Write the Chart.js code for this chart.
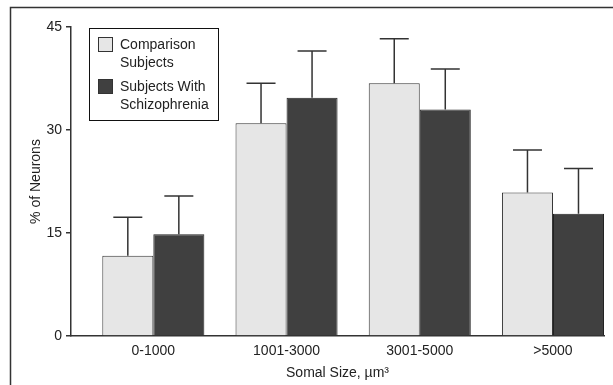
<!DOCTYPE html>
<html>
<head>
<meta charset="utf-8">
<script src="https://cdn.jsdelivr.net/npm/chart.js@4.4.0/dist/chart.umd.min.js"></script>
<style>
  html, body { margin: 0; padding: 0; background: #fff; }
  #wrap { width: 613px; height: 385px; }
</style>
</head>
<body>
<div id="wrap"><canvas id="somal-chart" width="613" height="385"></canvas></div>
<script>
    // Somal size bins
    const sizeBins = ['0-1000', '1001-3000', '3001-5000', '>5000'];

    // % of neurons, means and SD (error bars point up only)
    const comparisonMeans = [11.7, 31.0, 36.8, 20.9];
    const comparisonSD = [5.6, 5.8, 6.5, 6.2];
    const schizoMeans = [14.8, 34.7, 33.0, 17.8];
    const schizoSD = [5.6, 6.8, 5.9, 6.6];

    const yTicks = [0, 15, 30, 45];

    const fontFamily = '"Liberation Sans", Arial, sans-serif';
    const ink = '#222';

    // outer frame (only top and left sides visible in the figure)
    const framePlugin = {
        id: 'frame',
        beforeDraw(chart) {
            const ctx = chart.ctx;
            ctx.save();
            ctx.strokeStyle = '#333';
            ctx.lineWidth = 1.5;
            ctx.beginPath();
            ctx.moveTo(10.5, chart.height);
            ctx.lineTo(10.5, 7.5);
            ctx.lineTo(chart.width, 7.5);
            ctx.stroke();
            ctx.restore();
        }
    };

    // upward error bars with caps
    const errorBarPlugin = {
        id: 'errorBars',
        afterDatasetsDraw(chart) {
            const ctx = chart.ctx;
            const y = chart.scales.y;
            ctx.save();
            ctx.strokeStyle = '#333';
            ctx.lineWidth = 1.5;
            chart.data.datasets.forEach((ds, di) => {
                const meta = chart.getDatasetMeta(di);
                meta.data.forEach((bar, i) => {
                    const top = y.getPixelForValue(ds.data[i].y + ds.sd[i]);
                    ctx.beginPath();
                    ctx.moveTo(bar.x, bar.y);
                    ctx.lineTo(bar.x, top);
                    ctx.moveTo(bar.x - 14.5, top);
                    ctx.lineTo(bar.x + 14.5, top);
                    ctx.stroke();
                });
            });
            ctx.restore();
        }
    };

    // boxed legend with two-line labels
    const boxLegendPlugin = {
        id: 'boxLegend',
        afterDraw(chart) {
            const ctx = chart.ctx;
            ctx.save();
            ctx.fillStyle = '#fff';
            ctx.fillRect(89.5, 28.5, 129, 92);
            ctx.strokeStyle = '#111';
            ctx.lineWidth = 1;
            ctx.strokeRect(89.5, 28.5, 129, 92);
            const items = [
                { ds: chart.data.datasets[0], lines: ['Comparison', 'Subjects'], y: 37 },
                { ds: chart.data.datasets[1], lines: ['Subjects With', 'Schizophrenia'], y: 79 }
            ];
            ctx.font = '14px ' + fontFamily;
            ctx.textBaseline = 'middle';
            items.forEach(it => {
                ctx.fillStyle = it.ds.backgroundColor;
                ctx.fillRect(98.5, it.y + 0.5, 14, 14);
                ctx.strokeStyle = '#333';
                ctx.strokeRect(98.5, it.y + 0.5, 14, 14);
                ctx.fillStyle = ink;
                ctx.fillText(it.lines[0], 120, it.y + 8);
                ctx.fillText(it.lines[1], 120, it.y + 26);
            });
            ctx.restore();
        }
    };

    const toPoints = arr => arr.map((v, i) => ({ x: i, y: v }));

    const ctx = document.getElementById('somal-chart').getContext('2d');
    new Chart(ctx, {
        type: 'bar',
        data: {
            datasets: [{
                label: 'Comparison Subjects',
                data: toPoints(comparisonMeans),
                sd: comparisonSD,
                backgroundColor: '#e6e6e6',
                borderColor: '#333',
                borderWidth: 1,
                borderSkipped: 'bottom'
            }, {
                label: 'Subjects With Schizophrenia',
                data: toPoints(schizoMeans),
                sd: schizoSD,
                backgroundColor: '#404040',
                borderColor: '#222',
                borderWidth: 1,
                borderSkipped: 'bottom'
            }]
        },
        options: {
            responsive: false,
            animation: false,
            categoryPercentage: 0.766,
            barPercentage: 1.0,
            layout: {
                padding: { left: 24, top: 27, right: 9, bottom: 1 }
            },
            scales: {
                x: {
                    type: 'linear',
                    offset: false,
                    min: -0.618,
                    max: 3.383,
                    afterBuildTicks: s => { s.ticks = sizeBins.map((b, i) => ({ value: i })); },
                    afterFit: s => { s.height = 48; },
                    ticks: {
                        padding: 7,
                        color: ink,
                        font: { family: fontFamily, size: 14 },
                        callback: v => sizeBins[v]
                    },
                    grid: { display: false, drawTicks: false, offset: false },
                    border: { display: true, color: '#333', width: 1.5 },
                    title: {
                        display: true,
                        text: 'Somal Size, \u00b5m\u00b3',
                        color: ink,
                        font: { family: fontFamily, size: 14 },
                        padding: { top: 0, bottom: 2 }
                    }
                },
                y: {
                    min: 0,
                    max: 45,
                    afterBuildTicks: s => { s.ticks = yTicks.map(v => ({ value: v })); },
                    afterFit: s => { s.width = 47; },
                    ticks: {
                        padding: 4,
                        color: ink,
                        font: { family: fontFamily, size: 14 }
                    },
                    grid: {
                        drawOnChartArea: false,
                        drawTicks: true,
                        tickLength: 5,
                        color: '#333',
                        lineWidth: 1.5
                    },
                    border: { display: true, color: '#333', width: 1.5 },
                    title: {
                        display: true,
                        text: '% of Neurons',
                        color: ink,
                        font: { family: fontFamily, size: 14 },
                        padding: { top: 4, bottom: 0 }
                    }
                }
            },
            plugins: {
                legend: { display: false },
                tooltip: { enabled: false }
            }
        },
        plugins: [framePlugin, errorBarPlugin, boxLegendPlugin]
    });
</script>
</body>
</html>
